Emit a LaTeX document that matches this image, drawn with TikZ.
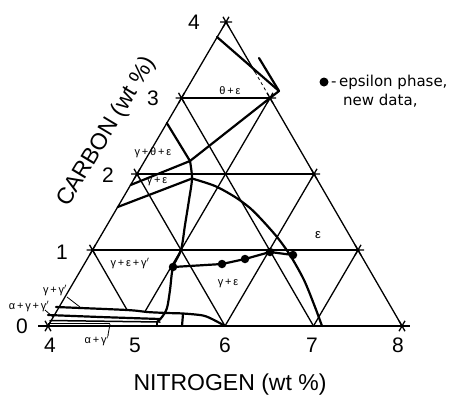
\documentclass[tikz,border=0pt]{standalone}
\usepackage{fontspec}
\setmainfont{Liberation Sans}
\newfontfamily\legfont{DejaVu Sans}
\begin{document}
\begin{tikzpicture}[x=1pt,y=-1pt,
  gridl/.style={line width=1.3pt},
  phase/.style={line width=2.2pt, line join=round, line cap=round},
  thinl/.style={line width=0.8pt},
  lbl/.style={font=\fontsize{11}{12}\selectfont, inner sep=0pt},
  num/.style={font=\fontsize{21}{22}\selectfont, inner sep=0pt},
  axl/.style={font=\fontsize{23}{24}\selectfont, inner sep=0pt},
  dotm/.style={circle, fill=black, inner sep=0pt, minimum size=8.5pt}]
\useasboundingbox (0,0) rectangle (454,397);
\foreach \a/\c in {0/0,1/0,2/0,3/0,4/0,0/1,1/1,2/1,3/1,0/2,1/2,2/2,0/3,1/3,0/4}
  \coordinate (g\a\c) at ({48+88.5*\a+44.5*\c},{326-76*\c});
% triangle and grid
\draw[gridl] (38,326) -- (410,326);
\draw[gridl] (g00) -- (g04);
\draw[gridl] (g04) -- (255,72);
\draw[thinl, dashed] (255,72) -- (g13);
\draw[gridl] (g13) -- (g40);
\draw[gridl] (g01) -- (g31) (g02) -- (g22) (g03) -- (g13);
\draw[gridl] (145.3,311) -- (g13) (g20) -- (g22) (g30) -- (g31);
\draw[gridl] (127.1,310) -- (g01) (g20) -- (g02) (g30) -- (g03);
\foreach \p in {g00,g01,g02,g03,g04,g13,g22,g31,g40}
  \draw[gridl, shift={(\p)}] (-6,0) -- (6,0) (-3,5.2) -- (3,-5.2) (3,5.2) -- (-3,-5.2);
% phase boundaries
\coordinate (P) at (190,161);
\coordinate (Q) at (192,178.5);
\draw[phase] (217,37) -- (279,91) -- (g13) -- (P);
\draw[phase] (259,58) -- (279,91);
\draw[phase] (166.8,123) -- (P) -- (130.6,185);
\draw[phase] (117.7,207) -- (Q);
\draw[phase] plot[smooth] coordinates {(P) (Q) (189,200) (185,225) (181,250) (173,267) (170,290) (167,308) (162,317) (157,322)};
\draw[phase] (157,322) -- (157,326);
\draw[phase] plot[smooth] coordinates {(Q) (215,186) (235,197) (250,208) (262,220) (277,237) (290,255) (304,280) (315,307) (322,326)};
\draw[phase] (173,267) -- (222,264) -- (245,259) -- (270,252) -- (293,255);
\foreach \q/\pt in {d1/{(173,267)},d2/{(222,264)},d3/{(245,259)},d4/{(270,252)},d5/{(293,255)}}
  \node[dotm] (\q) at \pt {};
\draw[phase] plot[smooth] coordinates {(56,307) (127,310) (147,312) (167,313) (183,313.5) (203,315.5) (214,320) (225,326)};
\draw[phase] (48,315) -- (100,317) -- (160,319);
\draw[phase, line width=1.5pt] (50,320.5) -- (160,322);
\draw[thinl] (48,323.5) -- (110,323.5);
\draw[phase] (183,314) -- (182,326);
% leaders
\draw[thinl] (67,297) -- (80,307);
\draw[thinl] (45,310) -- (53,317);
\draw[thinl] (108,335) -- (110,324);
% region labels
\node[lbl] (l1) at (230,91) {θ\,+\,ε};
\node[lbl] (l2) at (153,153) {γ\,+\,θ\,+\,ε};
\node[lbl] (l3) at (157,181) {γ\,+\,ε};
\node[lbl] (l4) at (130,263) {γ\,+\,ε\,+\,γ$'$};
\node[lbl] (l5) at (228,283) {γ\,+\,ε};
\node[lbl, font=\fontsize{13}{14}\selectfont] (l6) at (318,235) {ε};
\node[lbl] (l7) at (55,290) {γ\,+\,γ$'$};
\node[lbl] (l8) at (29,306) {α\,+\,γ\,+\,γ$'$};
\node[lbl] (l9) at (97,340) {α\,+\,γ$'$};
% axis numbers
\node[num] (c0) at (22,326) {0};
\node[num] (c1) at (62,252) {1};
\node[num] (c2) at (108,175) {2};
\node[num] (c3) at (153,98) {3};
\node[num] (c4) at (194,22) {4};
\node[num] (n4) at (50,345) {4};
\node[num] (n5) at (135,345) {5};
\node[num] (n6) at (225,345) {6};
\node[num] (n7) at (312,345) {7};
\node[num] (n8) at (398,345) {8};
\node[axl, rotate=59] (cax) at (107,132) {CARBON (wt \%)};
\node[axl] (nax) at (230,385) {NITROGEN (wt \%)};
% legend
\node[dotm, minimum size=9pt] (ld) at (324,82) {};
\node[anchor=west, inner sep=0pt, font=\legfont\fontsize{15}{16}\selectfont] (lt1) at (331,82) {-\,epsilon phase,};
\node[anchor=west, inner sep=0pt, font=\legfont\fontsize{15}{16}\selectfont] (lt2) at (343,101) {new data,};
\end{tikzpicture}
\end{document}
